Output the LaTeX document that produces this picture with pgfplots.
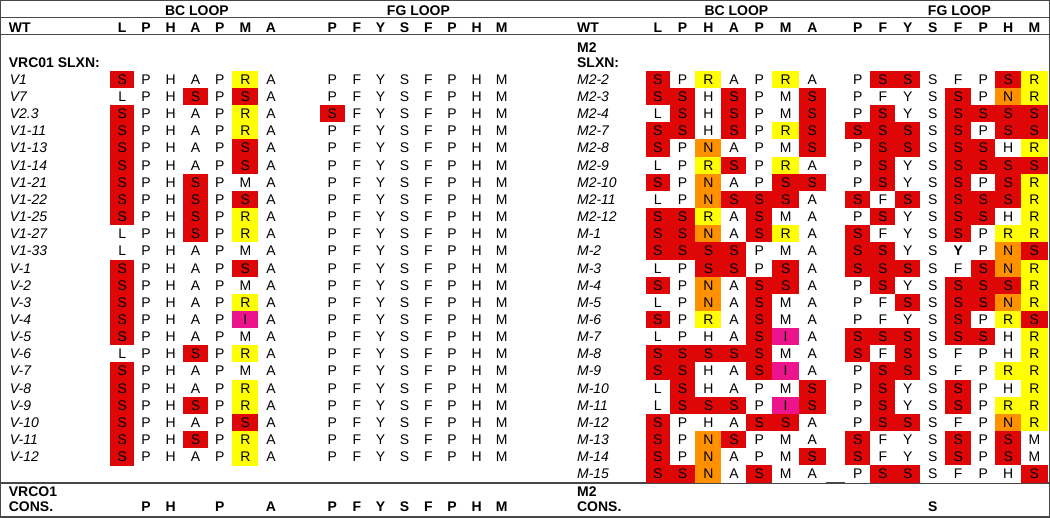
\documentclass[border=0pt]{standalone}
\usepackage{pgfplots}
\pgfplotsset{compat=1.18}
\usepackage{pgfplotstable}
\usepackage{fontspec}
\setmainfont{Liberation Sans}
\newcommand\fs{\fontsize{14}{16}\selectfont}
\protected\def\bY{\textbf{Y}}
\definecolor{cred}{RGB}{222,6,6}
\definecolor{cyel}{RGB}{255,255,0}
\definecolor{corg}{RGB}{255,145,0}
\definecolor{cmag}{RGB}{236,20,140}
\pgfdeclareplotmark{cell}{\pgfpathrectangle{\pgfpoint{-0.5pt}{-0.5pt}}{\pgfpoint{1pt}{1pt}}\pgfusepathqfill}

% ---------------- left half: VRC01 selections ----------------
\pgfplotstableread{
lab   c1 c2 c3 c4 c5 c6 c7 c8 c9 c10 c11 c12 c13 c14 c15
V1    S P H A P R A P F Y S F P H M
V7    L P H S P S A P F Y S F P H M
V2.3  S P H A P R A S F Y S F P H M
V1-11 S P H A P R A P F Y S F P H M
V1-13 S P H A P S A P F Y S F P H M
V1-14 S P H A P S A P F Y S F P H M
V1-21 S P H S P M A P F Y S F P H M
V1-22 S P H S P S A P F Y S F P H M
V1-25 S P H S P R A P F Y S F P H M
V1-27 L P H S P R A P F Y S F P H M
V1-33 L P H A P M A P F Y S F P H M
V-1   S P H A P S A P F Y S F P H M
V-2   S P H A P M A P F Y S F P H M
V-3   S P H A P R A P F Y S F P H M
V-4   S P H A P I A P F Y S F P H M
V-5   S P H A P M A P F Y S F P H M
V-6   L P H S P R A P F Y S F P H M
V-7   S P H A P M A P F Y S F P H M
V-8   S P H A P R A P F Y S F P H M
V-9   S P H S P R A P F Y S F P H M
V-10  S P H A P S A P F Y S F P H M
V-11  S P H S P R A P F Y S F P H M
V-12  S P H A P R A P F Y S F P H M
}\Lletters
% colour codes: 0 none, 1 red, 2 yellow, 3 orange, 4 magenta
\pgfplotstableread{
k1 k2 k3 k4 k5 k6 k7 k8 k9 k10 k11 k12 k13 k14 k15
1 0 0 0 0 2 0 0 0 0 0 0 0 0 0
0 0 0 1 0 1 0 0 0 0 0 0 0 0 0
1 0 0 0 0 2 0 1 0 0 0 0 0 0 0
1 0 0 0 0 2 0 0 0 0 0 0 0 0 0
1 0 0 0 0 1 0 0 0 0 0 0 0 0 0
1 0 0 0 0 1 0 0 0 0 0 0 0 0 0
1 0 0 1 0 0 0 0 0 0 0 0 0 0 0
1 0 0 1 0 1 0 0 0 0 0 0 0 0 0
1 0 0 1 0 2 0 0 0 0 0 0 0 0 0
0 0 0 1 0 2 0 0 0 0 0 0 0 0 0
0 0 0 0 0 0 0 0 0 0 0 0 0 0 0
1 0 0 0 0 1 0 0 0 0 0 0 0 0 0
1 0 0 0 0 0 0 0 0 0 0 0 0 0 0
1 0 0 0 0 2 0 0 0 0 0 0 0 0 0
1 0 0 0 0 4 0 0 0 0 0 0 0 0 0
1 0 0 0 0 0 0 0 0 0 0 0 0 0 0
0 0 0 1 0 2 0 0 0 0 0 0 0 0 0
1 0 0 0 0 0 0 0 0 0 0 0 0 0 0
1 0 0 0 0 2 0 0 0 0 0 0 0 0 0
1 0 0 1 0 2 0 0 0 0 0 0 0 0 0
1 0 0 0 0 1 0 0 0 0 0 0 0 0 0
1 0 0 1 0 2 0 0 0 0 0 0 0 0 0
1 0 0 0 0 2 0 0 0 0 0 0 0 0 0
}\Lcolors

% ---------------- right half: M2 selections ----------------
\pgfplotstableread{
lab   c1 c2 c3 c4 c5 c6 c7 c8 c9 c10 c11 c12 c13 c14 c15
M2-2  S P R A P R A P S S S F P S R
M2-3  S S H S P M S P F Y S S P N R
M2-4  L S H S P M S P S Y S S S S S
M2-7  S S H S P R S S S S S S P S S
M2-8  S P N A P M S P S S S S S H R
M2-9  L P R S P R A P S Y S S S S S
M2-10 S P N A P S S P S Y S S P S R
M2-11 L P N S S S A S F S S S S S R
M2-12 S S R A S M A P S Y S S S H R
M-1   S S N A S R A S F Y S S P R R
M-2   S S S S P M A S S Y S \bY{} P N S
M-3   L P S S P S A S S S S F S N R
M-4   S P N A S S A P S Y S S S S R
M-5   L P N A S M A P F S S S S N R
M-6   S P R A S M A P F Y S S P R S
M-7   L P H A S I A S S S S S S H R
M-8   S S S S S M A S F S S F P H R
M-9   S S H A S I A P S S S F P R R
M-10  L S H A P M S P S Y S S P H R
M-11  L S S S P I S P S Y S S P R R
M-12  S P H A S S A P S S S F P N R
M-13  S P N S P M A S F Y S S P S M
M-14  S P N A P M S S F Y S S P S M
M-15  S S N A S M A P S S S F P H S
}\Rletters
\pgfplotstableread{
k1 k2 k3 k4 k5 k6 k7 k8 k9 k10 k11 k12 k13 k14 k15
1 0 2 0 0 2 0 0 1 1 0 0 0 1 2
1 1 0 1 0 0 1 0 0 0 0 1 0 3 2
0 1 0 1 0 0 1 0 1 0 0 1 1 1 1
1 1 0 1 0 2 1 1 1 1 0 1 0 1 1
1 0 3 0 0 0 1 0 1 1 0 1 1 0 2
0 0 2 1 0 2 0 0 1 0 0 1 1 1 1
1 0 3 0 0 1 1 0 1 0 0 1 0 1 2
0 0 3 1 1 1 0 1 0 1 0 1 1 1 2
1 1 2 0 1 0 0 0 1 0 0 1 1 0 2
1 1 3 0 1 2 0 1 0 0 0 1 0 2 2
1 1 1 1 0 0 0 1 1 0 0 0 0 3 1
0 0 1 1 0 1 0 1 1 1 0 0 1 3 2
1 0 3 0 1 1 0 0 1 0 0 1 1 1 2
0 0 3 0 1 0 0 0 0 1 0 1 1 3 2
1 0 2 0 1 0 0 0 0 0 0 1 0 2 1
0 0 0 0 1 4 0 1 1 1 0 1 1 0 2
1 1 1 1 1 0 0 1 0 1 0 0 0 0 2
1 1 0 0 1 4 0 0 1 1 0 0 0 2 2
0 1 0 0 0 0 1 0 1 0 0 1 0 0 2
0 1 1 1 0 4 1 0 1 0 0 1 0 2 2
1 0 0 0 1 1 0 0 1 1 0 0 0 3 2
1 0 3 1 0 0 0 1 0 0 0 1 0 1 0
1 0 3 0 0 0 1 1 0 0 0 1 0 1 0
1 1 3 0 1 0 0 0 1 1 0 0 0 0 1
}\Rcolors

\pgfplotsset{
  lettr/.style={draw=none, mark=none, nodes near coords, point meta=explicit symbolic,
    every node near coord/.append style={font=\fs, anchor=center, inner sep=0pt, text=black}},
  hdr/.style={lettr, every node near coord/.append style={font=\fs\bfseries}},
  lab/.style={draw=none, mark=none, nodes near coords, point meta=explicit symbolic,
    every node near coord/.append style={font=\fs\itshape, anchor=west, inner sep=0pt, text=black}},
  blab/.style={draw=none, mark=none, nodes near coords, point meta=explicit symbolic,
    every node near coord/.append style={font=\fs\bfseries, anchor=west, inner sep=0pt, text=black}},
  rule/.style={draw=black!72, line width=1.4pt, mark=none},
  cellfill/.style={scatter, only marks, mark=cell, point meta=explicit,
    point meta min=0, point meta max=4,
    scatter/@pre marker code/.code={\begingroup
      \pgfmathtruncatemacro\kc{\pgfplotspointmetatransformed/250+0.1}%
      \ifcase\kc\relax\def\cc{white}\or\def\cc{cred}\or\def\cc{cyel}\or\def\cc{corg}\or\def\cc{cmag}\else\def\cc{white}\fi
      \pgfsetfillcolor{\cc}},
    scatter/@post marker code/.code={\endgroup}},
}
% #1 table, #2 column number, #3 x centre, #4 cell width
\newcommand\cells[4]{\addplot[cellfill, mark options={xscale=#4, yscale=17.4}]
   table[x expr=#3, y expr={79+17.17*\coordindex}, meta=k#2]{#1};}
\newcommand\letters[3]{\addplot[lettr] table[x expr=#3, y expr={79+17.17*\coordindex}, meta=c#2]{#1};}

\begin{document}
\begin{tikzpicture}
\begin{axis}[
  x=1pt, y=1pt, y dir=reverse,
  xmin=0, xmax=1050, ymin=0, ymax=517,
  xtick=\empty, ytick=\empty,
  axis line style={draw=black!72, line width=1.4pt},
  clip=false,
]
% horizontal rules
\addplot[rule] coordinates {(0,17) (1050,17)};
\addplot[rule] coordinates {(0,34) (1050,34)};
\addplot[rule] coordinates {(0,483) (1050,483)};

% coloured cells, left
\cells{\Lcolors}{1}{121.7}{23.7}
\cells{\Lcolors}{2}{145.6}{24.9}
\cells{\Lcolors}{3}{170.3}{25}
\cells{\Lcolors}{4}{195}{25}
\cells{\Lcolors}{5}{219.5}{24.7}
\cells{\Lcolors}{6}{245}{26.9}
\cells{\Lcolors}{7}{270.7}{25.3}
\cells{\Lcolors}{8}{332.3}{24.8}
\cells{\Lcolors}{9}{356.7}{24.8}
\cells{\Lcolors}{10}{380.3}{24.8}
\cells{\Lcolors}{11}{404.3}{24.8}
\cells{\Lcolors}{12}{428.3}{24.8}
\cells{\Lcolors}{13}{452}{24.8}
\cells{\Lcolors}{14}{476.7}{24.8}
\cells{\Lcolors}{15}{501.7}{24.8}
% coloured cells, right
\cells{\Rcolors}{1}{658}{24.3}
\cells{\Rcolors}{2}{682.8}{26}
\cells{\Rcolors}{3}{708.7}{26.3}
\cells{\Rcolors}{4}{734.2}{25.3}
\cells{\Rcolors}{5}{759.7}{26.3}
\cells{\Rcolors}{6}{786}{26.9}
\cells{\Rcolors}{7}{812.7}{27}
\cells{\Rcolors}{8}{858.3}{25}
\cells{\Rcolors}{9}{883.3}{25.6}
\cells{\Rcolors}{10}{908.3}{25}
\cells{\Rcolors}{11}{933.3}{25.6}
\cells{\Rcolors}{12}{958.8}{26}
\cells{\Rcolors}{13}{983.8}{24.6}
\cells{\Rcolors}{14}{1008.8}{26}
\cells{\Rcolors}{15}{1035}{26.9}

% letters, left
\letters{\Lletters}{1}{121.7}
\letters{\Lletters}{2}{145.6}
\letters{\Lletters}{3}{170.3}
\letters{\Lletters}{4}{195}
\letters{\Lletters}{5}{219.5}
\letters{\Lletters}{6}{245}
\letters{\Lletters}{7}{270.7}
\letters{\Lletters}{8}{332}
\letters{\Lletters}{9}{356.7}
\letters{\Lletters}{10}{380.3}
\letters{\Lletters}{11}{404.3}
\letters{\Lletters}{12}{428.3}
\letters{\Lletters}{13}{452}
\letters{\Lletters}{14}{476.7}
\letters{\Lletters}{15}{501.7}
% letters, right
\letters{\Rletters}{1}{658}
\letters{\Rletters}{2}{682.8}
\letters{\Rletters}{3}{708.7}
\letters{\Rletters}{4}{734.2}
\letters{\Rletters}{5}{759.7}
\letters{\Rletters}{6}{786}
\letters{\Rletters}{7}{812.7}
\letters{\Rletters}{8}{858.3}
\letters{\Rletters}{9}{883.3}
\letters{\Rletters}{10}{908.3}
\letters{\Rletters}{11}{933.3}
\letters{\Rletters}{12}{958.8}
\letters{\Rletters}{13}{983.8}
\letters{\Rletters}{14}{1008.8}
\letters{\Rletters}{15}{1035}

% row labels
\addplot[lab] table[x expr=9, y expr={79+17.17*\coordindex}, meta=lab]{\Lletters};
\addplot[lab] table[x expr=577, y expr={79+17.17*\coordindex}, meta=lab]{\Rletters};

% headers
\addplot[hdr] coordinates {(196.5,10)[BC LOOP] (418.3,10)[FG LOOP] (736.7,10)[BC LOOP] (960,10)[FG LOOP]};
\addplot[hdr] coordinates {(121.7,27)[L] (145.6,27)[P] (170.3,27)[H] (195,27)[A] (219.5,27)[P] (245,27)[M] (270.7,27)[A]
  (332,27)[P] (356.7,27)[F] (380.3,27)[Y] (404.3,27)[S] (428.3,27)[F] (452,27)[P] (476.7,27)[H] (501.7,27)[M]};
\addplot[hdr] coordinates {(658,27)[L] (682.8,27)[P] (708.7,27)[H] (734.2,27)[A] (759.7,27)[P] (786,27)[M] (812.7,27)[A]
  (858.3,27)[P] (883.3,27)[F] (908.3,27)[Y] (933.3,27)[S] (958.8,27)[F] (983.8,27)[P] (1008.8,27)[H] (1035,27)[M]};
\addplot[blab] coordinates {(8,27)[WT] (8,62)[VRC01 SLXN:] (8,491.7)[VRCO1] (8,506.7)[CONS.]
  (577,27)[WT] (577,46.7)[M2] (577,62.3)[SLXN:] (577,491.7)[M2] (577,506.7)[CONS.]};
% consensus rows
\addplot[hdr] coordinates {(145.6,506.7)[P] (170.3,506.7)[H] (219.5,506.7)[P] (270.7,506.7)[A]
  (332,506.7)[P] (356.7,506.7)[F] (380.3,506.7)[Y] (404.3,506.7)[S] (428.3,506.7)[F] (452,506.7)[P] (476.7,506.7)[H] (501.7,506.7)[M]
  (933.3,506.7)[S]};
\end{axis}
\end{tikzpicture}
\end{document}
